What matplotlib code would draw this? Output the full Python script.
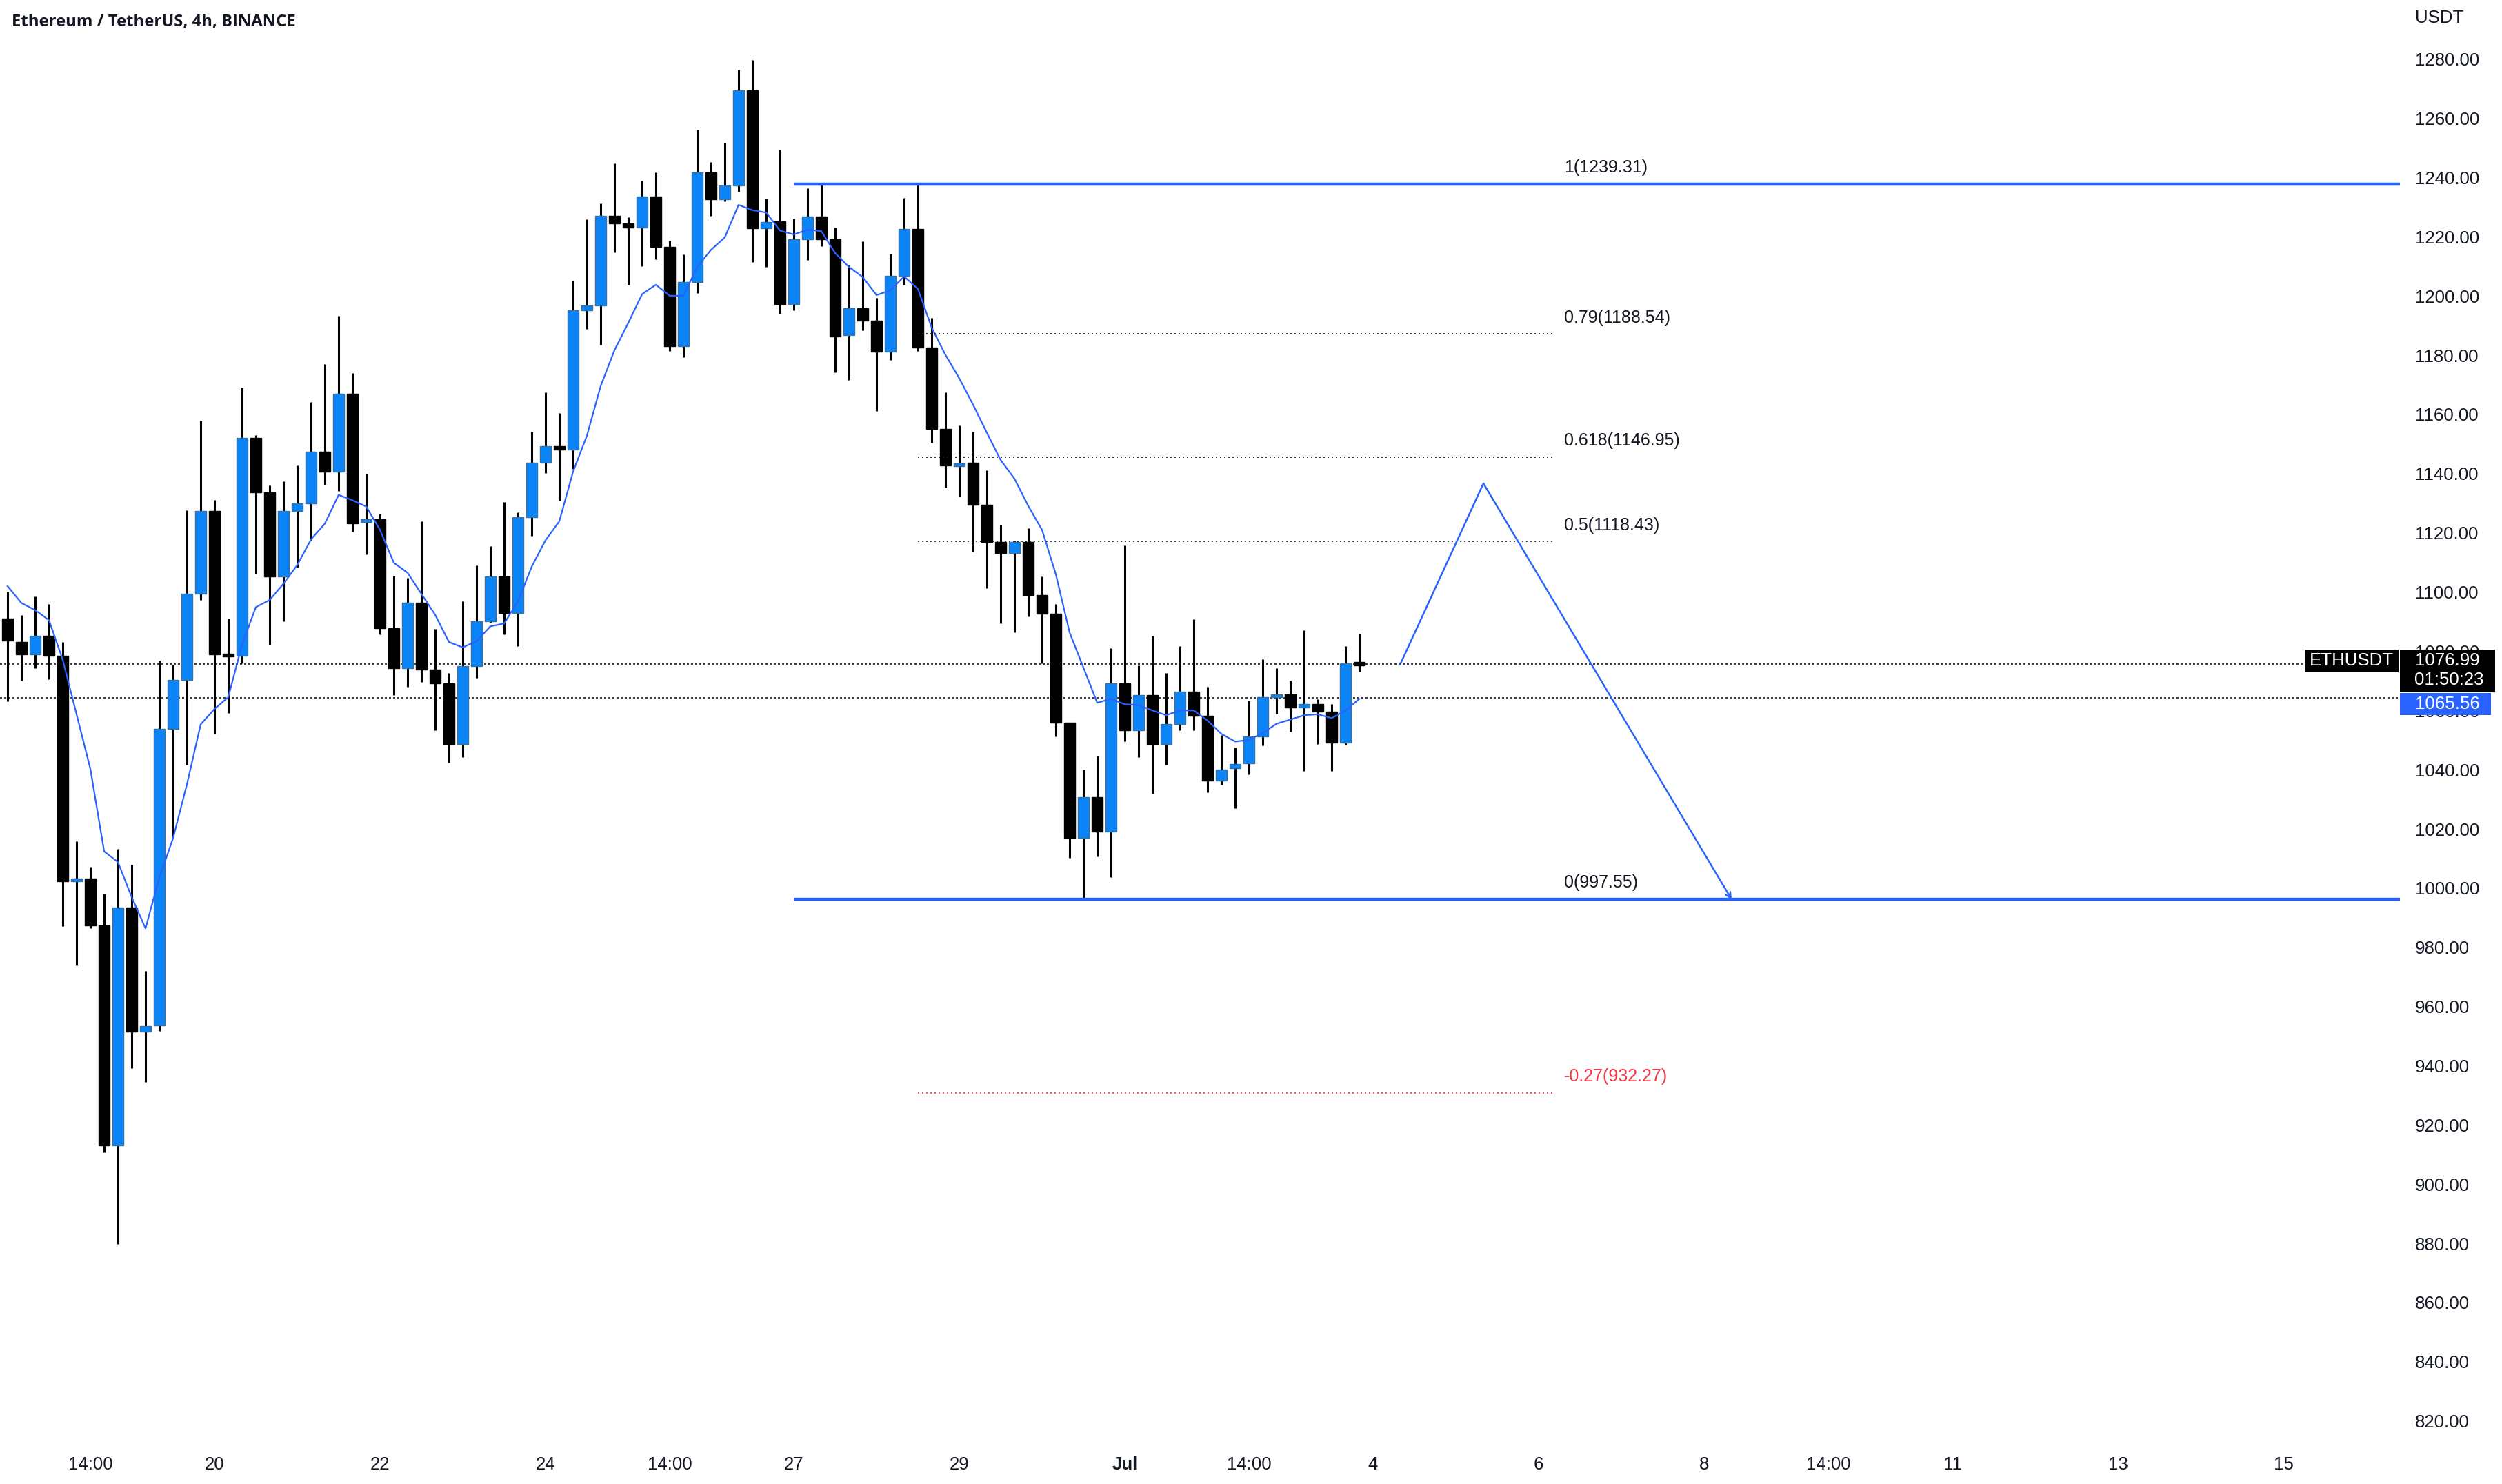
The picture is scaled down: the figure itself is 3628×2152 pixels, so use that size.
import matplotlib
matplotlib.use('Agg')
import matplotlib.pyplot as plt
from matplotlib.patches import Rectangle
from matplotlib.transforms import blended_transform_factory, ScaledTranslation

# ---------------- data ----------------
opens = [1092.4, 1084.5, 1080.3, 1086.6, 1079.8, 1003.6, 1004.6, 988.9, 914.5, 994.9,
         952.9, 955.0, 1055.1, 1071.6, 1100.8, 1128.7, 1080.3, 1079.8, 1153.4, 1135.0,
         1106.6, 1128.7, 1131.3, 1148.9, 1142.1, 1168.4, 1125.0, 1126.0, 1089.2, 1075.6,
         1097.7, 1075.1, 1070.6, 1050.1, 1076.4, 1091.6, 1106.6, 1094.2, 1126.8, 1145.0,
         1150.7, 1149.4, 1196.5, 1198.3, 1228.5, 1225.9, 1224.6, 1235.1, 1218.0, 1184.4,
         1206.2, 1243.2, 1234.1, 1238.8, 1270.8, 1224.3, 1226.7, 1198.6, 1220.6, 1228.3,
         1220.6, 1188.1, 1197.3, 1193.1, 1182.5, 1208.3, 1224.1, 1184.1, 1156.5, 1144.2,
         1145.2, 1130.8, 1118.2, 1114.5, 1118.2, 1100.3, 1094.0, 1057.2, 1018.3, 1032.0,
         1020.4, 1070.6, 1054.6, 1066.6, 1050.1, 1056.7, 1067.7, 1059.5, 1037.7, 1041.9,
         1043.5, 1052.7, 1065.9, 1066.9, 1062.4, 1063.5, 1060.9, 1050.6, 1077.4]
highs = [1101.6, 1093.5, 1100.0, 1097.4, 1084.5, 1017.2, 1008.6, 999.4, 1014.6, 1009.4,
         973.4, 1078.2, 1076.9, 1128.9, 1159.2, 1132.6, 1092.4, 1170.5, 1154.4, 1137.3,
         1138.9, 1144.2, 1165.5, 1178.3, 1194.6, 1175.4, 1141.3, 1127.9, 1106.9, 1106.1,
         1125.3, 1089.0, 1074.0, 1098.2, 1110.3, 1116.8, 1131.8, 1128.4, 1155.5, 1168.9,
         1161.8, 1206.5, 1227.2, 1232.7, 1246.1, 1228.0, 1240.4, 1243.2, 1220.1, 1215.4,
         1257.7, 1246.7, 1253.2, 1277.9, 1281.1, 1234.3, 1250.9, 1227.5, 1237.7, 1239.6,
         1224.6, 1212.0, 1219.9, 1200.7, 1215.7, 1234.6, 1239.6, 1194.1, 1168.9, 1157.6,
         1155.5, 1142.6, 1124.2, 1118.7, 1122.9, 1106.6, 1097.4, 1057.2, 1041.4, 1046.1,
         1082.4, 1117.1, 1076.6, 1086.6, 1074.0, 1083.2, 1092.1, 1069.5, 1053.0, 1049.0,
         1064.8, 1078.7, 1075.6, 1071.4, 1088.5, 1065.1, 1063.5, 1083.2, 1087.4]
lows = [1064.5, 1071.4, 1075.6, 1071.9, 988.6, 975.2, 987.8, 912.1, 881.1, 940.5,
        935.8, 953.1, 1018.3, 1043.0, 1098.7, 1053.5, 1060.6, 1077.2, 1107.6, 1083.5,
        1091.4, 1109.7, 1118.7, 1137.6, 1135.5, 1121.8, 1114.0, 1087.1, 1066.6, 1069.5,
        1071.1, 1054.6, 1043.8, 1045.6, 1072.4, 1091.0, 1087.1, 1083.2, 1120.5, 1141.5,
        1132.3, 1142.9, 1190.2, 1184.9, 1216.2, 1205.1, 1211.5, 1213.8, 1182.8, 1180.7,
        1202.3, 1228.5, 1233.3, 1236.7, 1212.8, 1211.2, 1195.4, 1196.5, 1213.6, 1218.3,
        1175.7, 1173.1, 1189.9, 1162.6, 1179.9, 1205.1, 1182.8, 1151.8, 1136.8, 1133.7,
        1115.0, 1102.7, 1090.8, 1087.7, 1093.2, 1077.2, 1052.7, 1011.7, 997.5, 1012.0,
        1005.1, 1050.9, 1045.6, 1033.3, 1043.0, 1054.8, 1054.8, 1033.8, 1036.2, 1028.3,
        1039.8, 1049.6, 1060.3, 1054.3, 1040.9, 1050.1, 1040.9, 1049.8, 1074.5]
closes = [1085.0, 1080.3, 1086.6, 1079.8, 1003.6, 1004.6, 988.9, 914.5, 994.9, 952.9,
          954.7, 1055.1, 1071.6, 1100.8, 1128.7, 1080.3, 1079.8, 1153.4, 1135.0, 1106.6,
          1128.7, 1131.3, 1148.9, 1142.1, 1168.4, 1124.7, 1126.0, 1089.2, 1075.6, 1097.7,
          1075.1, 1070.6, 1050.1, 1076.4, 1091.6, 1106.6, 1094.2, 1126.8, 1145.0, 1150.7,
          1149.4, 1196.5, 1198.3, 1228.5, 1225.9, 1224.6, 1235.1, 1218.0, 1184.4, 1206.2,
          1243.2, 1234.1, 1238.8, 1270.8, 1224.3, 1226.4, 1198.6, 1220.6, 1228.3, 1220.6,
          1187.8, 1197.3, 1193.1, 1182.5, 1208.3, 1224.1, 1184.1, 1156.5, 1144.2, 1144.7,
          1130.8, 1118.2, 1114.5, 1118.2, 1100.3, 1094.0, 1057.2, 1018.3, 1032.0, 1020.4,
          1070.6, 1054.6, 1066.6, 1050.1, 1056.7, 1067.7, 1059.5, 1037.7, 1041.4, 1043.3,
          1052.7, 1065.9, 1066.9, 1062.4, 1063.5, 1061.1, 1050.6, 1077.4, 1076.99]
ema = [1103.4, 1097.7, 1095.3, 1091.9, 1078.5, 1060.1, 1041.7, 1013.8, 1010.2, 998.3,
       987.8, 1004.9, 1018.3, 1036.4, 1056.7, 1061.9, 1065.9, 1083.7, 1096.3, 1098.7,
       1104.2, 1110.5, 1119.2, 1124.5, 1134.2, 1132.4, 1130.3, 1122.4, 1111.3, 1107.9,
       1100.8, 1093.7, 1084.5, 1082.7, 1084.8, 1089.8, 1090.8, 1098.2, 1110.0, 1118.9,
       1125.3, 1142.1, 1154.2, 1171.0, 1183.1, 1192.3, 1202.0, 1205.2, 1201.5, 1201.5,
       1211.2, 1217.0, 1221.2, 1232.2, 1230.4, 1229.6, 1223.5, 1222.2, 1223.8, 1223.3,
       1215.9, 1211.2, 1207.8, 1201.7, 1203.3, 1208.0, 1203.8, 1190.7, 1181.5, 1173.6,
       1164.7, 1155.2, 1146.0, 1139.7, 1130.5, 1122.4, 1107.4, 1087.7, 1075.9, 1064.0,
       1065.3, 1063.5, 1063.2, 1061.4, 1059.8, 1061.4, 1061.4, 1058.0, 1053.5, 1050.9,
       1051.4, 1053.8, 1056.9, 1058.3, 1059.8, 1060.1, 1058.8, 1061.4, 1065.3]

last_price = 1076.99
ema_last = 1065.56
countdown = "01:50:23"
symbol = "ETHUSDT"

fib_ratios = ["1", "0.79", "0.618", "0.5", "0", "-0.27"]
fib_prices = [1239.31, 1188.54, 1146.95, 1118.43, 997.55, 932.27]
fib_start, fib_end = 66, 112          # bar index span of the dotted fib levels
box_start = 57                        # start of the solid range lines

proj_x = [101, 107, 125]              # projected path (bar index)
proj_y = [1077.3, 1138.1, 997.55]

xtick_pos = [6, 15, 27, 39, 48, 57, 69, 81, 90, 99, 111, 123, 132, 141, 153, 165]
xtick_labels = ['14:00', '20', '22', '24', '14:00', '27', '29', 'Jul', '14:00',
                '4', '6', '8', '14:00', '11', '13', '15']
ytick_vals = list(range(820, 1281, 20))

# ---------------- style ----------------
UP = '#0b84f7'
UP_EDGE = '#3a6f9e'
DOWN = '#000000'
BLUE = '#2962ff'
TXT = '#131722'
RED = '#f23645'
FONT = 'Liberation Sans'

W, H, DPI = 3628, 2152, 200
fig = plt.figure(figsize=(W / DPI, H / DPI), dpi=DPI, facecolor='white')
ax = fig.add_axes([0, 62 / H, 3480 / W, 2090 / H])
ax.set_facecolor('white')
ax.set_xlim(-0.55, 173.45)
ax.set_ylim(814.55, 1301.39)
for s in ax.spines.values():
    s.set_visible(False)

# candles
n = len(opens)
xs = list(range(n))
ax.vlines(xs, lows, highs, color='black', lw=1.1, zorder=2)
for i in xs:
    o, c = opens[i], closes[i]
    up = c >= o
    bottom = min(o, c)
    height = max(abs(c - o), 1.0)
    if abs(c - o) < 1.0:
        bottom = (o + c) / 2 - 0.5
    ax.bar(i, height, bottom=bottom, width=0.78,
           color=UP if up else DOWN,
           edgecolor=UP_EDGE if up else DOWN, linewidth=0.5, zorder=3)

# moving average
ax.plot(xs, ema, color=BLUE, lw=0.8, zorder=4)

# price lines
ax.axhline(last_price, color=TXT, lw=0.6, ls=(0, (1.8, 1.8)), zorder=1)
ax.axhline(ema_last, color=TXT, lw=0.6, ls=(0, (1.8, 1.8)), zorder=1)

# fib range solid lines
ax.hlines([fib_prices[0], fib_prices[4]], box_start, 173.45, color=BLUE, lw=1.6, zorder=5)
# fib dotted levels + labels
for r, p in zip(fib_ratios, fib_prices):
    col = RED if r.startswith('-') else TXT
    ax.hlines(p, fib_start, fib_end, color=col, lw=0.6, ls=(0, (1.2, 2.4)), zorder=4)
    ax.annotate(f"{r}({p:.2f})", xy=(fib_end + 0.85, p), xytext=(0, 8.6),
                textcoords='offset points', ha='left', va='center',
                fontsize=9.0, color=col, family=FONT)

# projected path with open arrow head at the end
ax.plot(proj_x[:2], proj_y[:2], color=BLUE, lw=0.9, zorder=5)
ax.annotate('', xy=(proj_x[2], proj_y[2]), xytext=(proj_x[1], proj_y[1]),
            arrowprops=dict(arrowstyle='->', color=BLUE, lw=0.9, shrinkA=0, shrinkB=0,
                            mutation_scale=7), zorder=5)

# axes ticks
ax.yaxis.tick_right()
ax.set_yticks(ytick_vals)
ax.set_yticklabels([f"{v:.2f}" for v in ytick_vals], family=FONT, fontsize=9.3, color=TXT)
ax.tick_params(axis='y', length=0, pad=7.9)
ax.set_xticks(xtick_pos)
ax.set_xticklabels(xtick_labels, family=FONT, fontsize=9.3, color=TXT)
for lbl in ax.get_xticklabels():
    if lbl.get_text() == 'Jul':
        lbl.set_fontweight('bold')
ax.tick_params(axis='x', length=0, pad=8.0)
shift = ScaledTranslation(0, 6 / DPI, fig.dpi_scale_trans)
for lbl in ax.get_yticklabels():
    lbl.set_transform(lbl.get_transform() + shift)

# price axis labels (boxes)
bt = blended_transform_factory(ax.transAxes, ax.transData)
ax.add_patch(Rectangle((1.0, 1067.75), 138 / 3480, 1081.96 - 1067.75, transform=bt,
                       facecolor='black', edgecolor='none', clip_on=False, zorder=10))
ax.add_patch(Rectangle((1.0, 1059.88), 132 / 3480, 1067.38 - 1059.88, transform=bt,
                       facecolor=BLUE, edgecolor='none', clip_on=False, zorder=10))
ax.add_patch(Rectangle((3342 / 3480, 1074.27), 136 / 3480, 1081.96 - 1074.27, transform=bt,
                       facecolor='black', edgecolor='none', clip_on=False, zorder=10))
ax.text(3549 / 3480, 1078.35, f"{last_price:.2f}", transform=bt, ha='center', va='center',
        color='white', fontsize=9.3, family=FONT, zorder=11, clip_on=False)
ax.text(3551 / 3480, 1071.8, countdown, transform=bt, ha='center', va='center',
        color='white', fontsize=9.3, family=FONT, zorder=11, clip_on=False)
ax.text(3549 / 3480, 1063.6, f"{ema_last:.2f}", transform=bt, ha='center', va='center',
        color='white', fontsize=9.3, family=FONT, zorder=11, clip_on=False)
ax.text(3410 / 3480, 1078.35, symbol, transform=bt, ha='center', va='center',
        color='white', fontsize=9.3, family=FONT, zorder=11, clip_on=False)

# header texts
fig.text(17 / W, 1 - 32 / H, "Ethereum / TetherUS, 4h, BINANCE", ha='left', va='center',
         fontsize=8.6, fontweight='bold', color=TXT, family='Open Sans')
fig.text(3502 / W, 1 - 26 / H, "USDT", ha='left', va='center',
         fontsize=9.3, color=TXT, family=FONT)

fig.savefig('out.png', dpi=DPI, facecolor='white')
